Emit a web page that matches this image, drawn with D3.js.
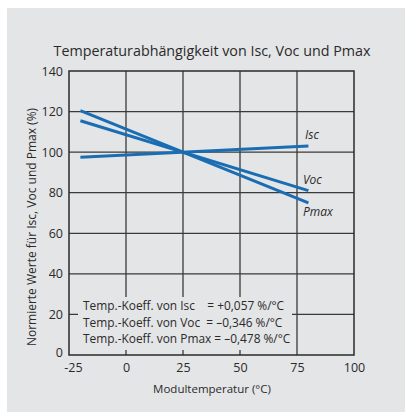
<!DOCTYPE html>
<html>
<head>
<meta charset="utf-8">
<script src="https://cdn.jsdelivr.net/npm/d3@7"></script>
<style>
  html, body { margin: 0; padding: 0; background: #fff; }
  svg text { font-family: "Open Sans", sans-serif; fill: #2a2a2a; }
</style>
</head>
<body>
<div id="chart"></div>
<script>
// Werte
const temps = [-20, 80];
const iscValues = [97.5, 103];
const vocValues = [115.5, 81];
const pmaxValues = [120.5, 75];
const seriesNames = ["Isc", "Voc", "Pmax"];
const xTicks = [-25, 0, 25, 50, 75, 100];
const yTicks = [0, 20, 40, 60, 80, 100, 120, 140];
const legendLines = [
    "Temp.-Koeff. von Isc    = +0,057 %/°C",
    "Temp.-Koeff. von Voc  = –0,346 %/°C",
    "Temp.-Koeff. von Pmax = –0,478 %/°C"
];

const width = 405;
const height = 412;
const margin = { top: 71, right: 51, bottom: 57, left: 69 };
const w = width - margin.left - margin.right;
const h = height - margin.top - margin.bottom;

const svg = d3.select("#chart").append("svg")
    .attr("width", width)
    .attr("height", height);

// Hintergrund
svg.append("rect")
    .attr("x", 7).attr("y", 8)
    .attr("width", width - 7).attr("height", height - 8)
    .attr("fill", "#e4e5e7");

svg.append("text")
    .attr("x", 212).attr("y", 56)
    .attr("text-anchor", "middle")
    .attr("font-size", "14.3px")
    .text("Temperaturabhängigkeit von Isc, Voc und Pmax");

const x = d3.scaleLinear().domain([-25, 100]).range([0, w]);
const y = d3.scaleLinear().domain([0, 140]).range([h, 0]);

const g = svg.append("g").attr("transform", `translate(${margin.left},${margin.top})`);

// Gitter
g.append("g")
    .selectAll("line.v")
    .data(xTicks.slice(1, -1))
    .join("line")
    .attr("x1", d => x(d)).attr("x2", d => x(d))
    .attr("y1", 0).attr("y2", h)
    .attr("stroke", "#3a3a3a").attr("stroke-width", 1.3);

g.append("g")
    .selectAll("line.h")
    .data(yTicks.slice(1, -1))
    .join("line")
    .attr("x1", 0).attr("x2", w)
    .attr("y1", d => y(d)).attr("y2", d => y(d))
    .attr("stroke", "#3a3a3a").attr("stroke-width", 1.3);

// Legendenfeld deckt Gitter ab
g.append("rect")
    .attr("x", 9).attr("y", 226)
    .attr("width", 214).attr("height", 53)
    .attr("fill", "#e4e5e7");

g.append("rect")
    .attr("width", w).attr("height", h)
    .attr("fill", "none")
    .attr("stroke", "#2a2a2a").attr("stroke-width", 1.5);

// Achsen
const yAxis = g.append("g")
    .call(d3.axisLeft(y).tickValues(yTicks).tickSize(0).tickPadding(6));
yAxis.select(".domain").remove();
yAxis.selectAll("text").attr("font-size", "12.5px").attr("fill", "#2a2a2a")
    .style("font-family", "Open Sans, sans-serif");
yAxis.selectAll(".tick").filter(d => d === 0).select("text").attr("dy", "0.1em");

const xAxis = g.append("g")
    .attr("transform", `translate(0,${h})`)
    .call(d3.axisBottom(x).tickValues(xTicks).tickSize(0).tickPadding(8)
        .tickFormat(d => String(d)));
xAxis.select(".domain").remove();
xAxis.selectAll("text").attr("font-size", "12.5px").attr("fill", "#2a2a2a")
    .style("font-family", "Open Sans, sans-serif");
xAxis.selectAll(".tick").filter(d => d === -25).select("text").attr("dx", 4);

svg.append("text")
    .attr("x", 212).attr("y", 393)
    .attr("text-anchor", "middle")
    .attr("font-size", "11.5px")
    .text("Modultemperatur (°C)");

svg.append("text")
    .attr("transform", "translate(36,227) rotate(-90)")
    .attr("text-anchor", "middle")
    .attr("font-size", "12px")
    .text("Normierte Werte für Isc, Voc und Pmax (%)");

// Linien
const series = [iscValues, vocValues, pmaxValues].map((vals, i) => ({
    name: seriesNames[i],
    values: temps.map((t, j) => ({ t, v: vals[j] }))
}));

const line = d3.line().x(d => x(d.t)).y(d => y(d.v));

g.selectAll("path.line")
    .data(series)
    .join("path")
    .attr("class", "line")
    .attr("d", d => line(d.values))
    .attr("fill", "none")
    .attr("stroke", "#1a6db3")
    .attr("stroke-width", 3);

// Beschriftung der Linien
const labelPos = { Isc: [305, 139], Voc: [303, 184], Pmax: [303, 216] };
svg.selectAll("text.slabel")
    .data(seriesNames)
    .join("text")
    .attr("class", "slabel")
    .attr("x", d => labelPos[d][0])
    .attr("y", d => labelPos[d][1])
    .attr("font-size", "12px")
    .attr("font-style", "italic")
    .text(d => d);

// Legende
g.selectAll("text.leg")
    .data(legendLines)
    .join("text")
    .attr("class", "leg")
    .attr("x", 14)
    .attr("y", (d, i) => 239 + i * 16.5)
    .attr("font-size", "11.9px")
    .attr("font-weight", 500)
    .style("white-space", "pre")
    .attr("xml:space", "preserve")
    .text(d => d);
</script>
</body>
</html>
